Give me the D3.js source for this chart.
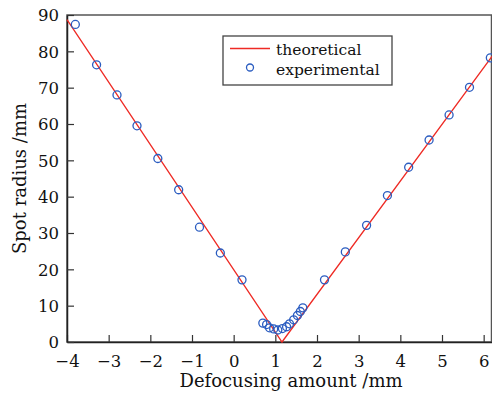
<!DOCTYPE html>
<html>
<head>
<meta charset="utf-8">
<script src="https://cdn.jsdelivr.net/npm/d3@7"></script>
<style>
  body { margin: 0; background: #fff; }
  text { font-family: "DejaVu Serif", serif; fill: #111; }
</style>
</head>
<body>
<div class="chart"></div>
<script>
// data
var theoryX = [-4, 1.16, 6.2];
var theoryY = [88.7, 0, 78.6];

var expX = [-3.80, -3.29, -2.80, -2.32, -1.82, -1.32, -0.82, -0.32, 0.20,
  0.70, 0.79, 0.86, 0.96, 1.06, 1.17, 1.27, 1.34, 1.44, 1.53, 1.60, 1.66,
  2.18, 2.68, 3.19, 3.69, 4.20, 4.69, 5.17, 5.66, 6.16];
var expY = [87.4, 76.3, 68.0, 59.5, 50.5, 41.9, 31.6, 24.5, 17.1,
  5.2, 4.8, 3.9, 3.6, 3.3, 3.7, 4.2, 5.0, 6.1, 7.3, 8.4, 9.4,
  17.1, 24.8, 32.1, 40.3, 48.1, 55.6, 62.5, 70.1, 78.2];

var xTicks = [-4, -3, -2, -1, 0, 1, 2, 3, 4, 5, 6];
var yTicks = [0, 10, 20, 30, 40, 50, 60, 70, 80, 90];

var seriesNames = ["theoretical", "experimental"];

// setting up the chart
var widthSVG = 492;
var heightSVG = 395;

var margins = { top: 15, right: 0, bottom: 53, left: 67 };

var width = widthSVG - margins.left - margins.right;
var height = heightSVG - margins.top - margins.bottom;

var svg = d3.select(".chart")
  .append("svg")
  .attr("width", widthSVG)
  .attr("height", heightSVG);

var g = svg.append("g")
  .attr("transform", `translate(${margins.left}, ${margins.top})`);

var x = d3.scaleLinear().domain([-4, 6.2]).range([0, width]);
var y = d3.scaleLinear().domain([0, 90]).range([height, 0]);

// frame
g.append("rect")
  .attr("x", 0)
  .attr("y", 0)
  .attr("width", width - 0.5)
  .attr("height", height)
  .attr("fill", "none")
  .attr("stroke", "#555")
  .attr("stroke-width", 1.5);

// axes with inward ticks
var bottomAxis = d3.axisBottom(x).tickValues(xTicks).tickSizeInner(-7).tickSizeOuter(0).tickPadding(13);
var leftAxis = d3.axisLeft(y).tickValues(yTicks).tickSizeInner(-7).tickSizeOuter(0).tickPadding(8);

var xAxisG = g.append("g")
  .attr("transform", `translate(0, ${height})`)
  .call(bottomAxis);

var yAxisG = g.append("g").call(leftAxis);

[xAxisG, yAxisG].forEach(function (ax) {
  ax.select(".domain").attr("stroke", "#222").attr("stroke-width", 1.5);
  ax.selectAll(".tick line").attr("stroke", "#333").attr("stroke-width", 1.2);
  ax.selectAll(".tick text")
    .attr("font-family", "DejaVu Serif, serif")
    .attr("font-size", 16.5)
    .attr("fill", "#111");
});
yAxisG.selectAll(".tick text").attr("dy", "0.36em");

// theoretical line
var theory = theoryX.map((d, i) => [d, theoryY[i]]);
g.append("path")
  .datum(theory)
  .attr("d", d3.line().x(d => x(d[0])).y(d => y(d[1])))
  .attr("fill", "none")
  .attr("stroke", "#ee2a24")
  .attr("stroke-width", 1.3);

// experimental points
var exp = expX.map((d, i) => ({ x: d, y: expY[i] }));
g.selectAll(".pt")
  .data(exp)
  .enter()
  .append("circle")
  .attr("class", "pt")
  .attr("cx", d => x(d.x))
  .attr("cy", d => y(d.y))
  .attr("r", 4)
  .attr("fill", "none")
  .attr("stroke", "#2a5cc0")
  .attr("stroke-width", 1.3);

// legend
var legend = svg.append("g").attr("transform", "translate(223, 36)");
legend.append("rect")
  .attr("width", 169)
  .attr("height", 49)
  .attr("fill", "#fff")
  .attr("stroke", "#444")
  .attr("stroke-width", 1.3);
legend.append("line")
  .attr("x1", 7).attr("x2", 47)
  .attr("y1", 12.5).attr("y2", 12.5)
  .attr("stroke", "#ee2a24")
  .attr("stroke-width", 1.3);
legend.append("circle")
  .attr("cx", 27).attr("cy", 31.5).attr("r", 3.5)
  .attr("fill", "none")
  .attr("stroke", "#2a5cc0")
  .attr("stroke-width", 1.3);
legend.selectAll(".lg")
  .data(seriesNames)
  .enter()
  .append("text")
  .attr("class", "lg")
  .attr("x", 53)
  .attr("y", (d, i) => 19 + i * 20)
  .attr("font-size", 15.5)
  .text(d => d);

// axis titles
svg.append("text")
  .attr("transform", `translate(26, ${margins.top + height / 2}) rotate(-90)`)
  .attr("text-anchor", "middle")
  .attr("font-size", 18)
  .text("Spot radius /mm");

svg.append("text")
  .attr("x", 291)
  .attr("y", 387)
  .attr("text-anchor", "middle")
  .attr("font-size", 18)
  .text("Defocusing amount /mm");
</script>
</body>
</html>
